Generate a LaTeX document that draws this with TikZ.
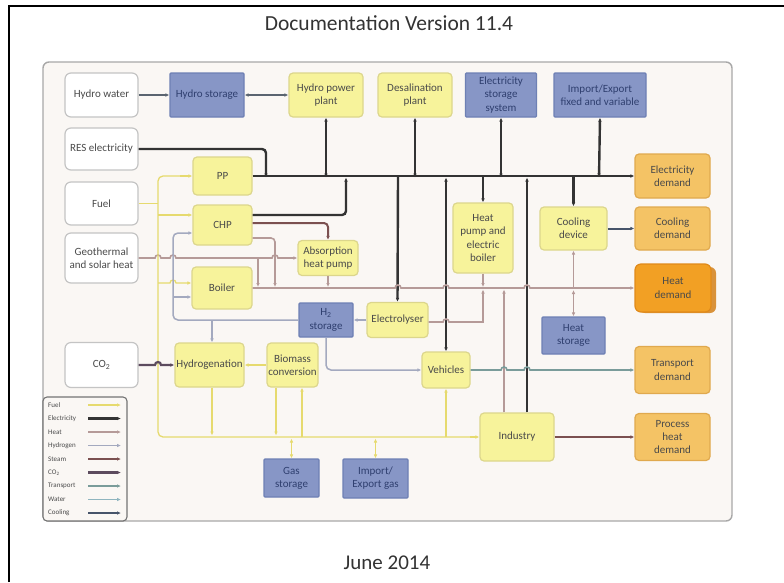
\documentclass[tikz,border=0pt]{standalone}
\usepackage{fontspec}
\setmainfont{Carlito}
\usetikzlibrary{arrows.meta}
\definecolor{frfill}{HTML}{FAF7F4}
\definecolor{frborder}{HTML}{A8A8A8}
\definecolor{yfill}{HTML}{F7F39B}
\definecolor{yborder}{HTML}{DCD68C}
\definecolor{bfill}{HTML}{8796C6}
\definecolor{bborder}{HTML}{6E80B4}
\definecolor{ofill}{HTML}{F4C365}
\definecolor{oborder}{HTML}{E0A94E}
\definecolor{hfill}{HTML}{F2A024}
\definecolor{hborder}{HTML}{E08A1A}
\definecolor{hshadow}{HTML}{D9923A}
\definecolor{wborder}{HTML}{C4C4C4}
\definecolor{txt}{HTML}{4A4A4A}
\definecolor{btxt}{HTML}{2F3F6F}
\definecolor{celec}{HTML}{333333}
\definecolor{cfuel}{HTML}{E6DA6E}
\definecolor{cheat}{HTML}{B59A98}
\definecolor{chtwo}{HTML}{A3A9BF}
\definecolor{csteam}{HTML}{7B5050}
\definecolor{cco}{HTML}{5C4B5E}
\definecolor{ctrans}{HTML}{7A9C9A}
\definecolor{cwater}{HTML}{8FB5BF}
\definecolor{ccool}{HTML}{46546A}
\definecolor{chydro}{HTML}{5A6470}
\tikzset{
  box/.style={rounded corners=4pt, line width=1.2pt, align=center, inner sep=1pt,
    font=\fontsize{11}{13.2}\selectfont, text=txt},
  ybox/.style={box, fill=yfill, draw=yborder},
  bbox/.style={box, rounded corners=1pt, fill=bfill, draw=bborder, text=btxt},
  obox/.style={box, fill=ofill, draw=oborder},
  hbox/.style={box, fill=hfill, draw=hborder, rounded corners=6pt},
  wbox/.style={box, fill=white, draw=wborder, rounded corners=6pt},
  sz/.style 2 args={minimum width=#1, minimum height=#2},
  elec/.style={draw=celec, line width=2.4pt},
  fuelc/.style={draw=cfuel, line width=1.3pt},
  heatc/.style={draw=cheat, line width=1.6pt},
  htwoc/.style={draw=chtwo, line width=1.5pt},
  steamc/.style={draw=csteam, line width=2pt},
  coc/.style={draw=cco, line width=2.2pt},
  transc/.style={draw=ctrans, line width=1.6pt},
  waterc/.style={draw=cwater, line width=1.3pt},
  coolc/.style={draw=ccool, line width=2pt},
  hydroc/.style={draw=chydro, line width=1.2pt},
}
\begin{document}
\begin{tikzpicture}[x=1pt,y=-1pt,>={Latex[length=4pt,width=3.6pt]}]
\useasboundingbox (0,0) rectangle (784,582);
\fill[white] (0,0) rectangle (784,582);
\draw[line width=2pt] (9,582) -- (9,6) -- (784,6);
\node[font=\fontsize{21.5}{24}\selectfont, text=black!80] (title) at (389,23) {Documentation Version 11.4};
\node[font=\fontsize{21}{24}\selectfont, text=black!80] (date) at (387,563) {June 2014};
% frame
\draw[rounded corners=6pt, fill=frfill, draw=frborder, line width=1.4pt] (43,62) rectangle (732,521);
% legend
\draw[rounded corners=4pt, draw=black!55, line width=1.1pt, fill=frfill] (43,397) rectangle (127,521);
\foreach \lab/\sty [count=\i from 0] in {Fuel/fuelc, Electricity/elec, Heat/heatc, Hydrogen/htwoc, Steam/steamc, {CO\textsubscript{2}}/coc, Transport/transc, Water/waterc, Cooling/coolc}{
  \node[anchor=west, font=\fontsize{7}{8}\selectfont, text=txt, inner sep=0pt] (leg\i) at (48,{405+13.5*\i}) {\lab};
  \draw[\sty,->] (88,{405+13.5*\i}) -- (121,{405+13.5*\i});
}
% top row
\node[wbox, sz={73pt}{44pt}] (hw) at (101.5,95) {Hydro water};
\node[bbox, sz={74pt}{44pt}] (hs) at (207,95) {Hydro storage};
\node[ybox, sz={74pt}{44pt}] (hpp) at (326,95) {Hydro power\\plant};
\node[ybox, sz={74pt}{44pt}] (desal) at (415,95) {Desalination\\plant};
\node[bbox, sz={71pt}{44pt}] (ess) at (501,95) {Electricity\\storage\\system};
\node[bbox, sz={92pt}{44pt}] (iex) at (600,95) {Import/Export\\fixed and variable};
% inputs
\node[wbox, sz={73pt}{42pt}] (res) at (101.5,149) {RES electricity};
\node[wbox, sz={73pt}{43pt}] (fuel) at (101.5,203.5) {Fuel};
\node[wbox, sz={73pt}{50pt}] (geo) at (101.5,258) {Geothermal\\and solar heat};
\node[wbox, sz={73pt}{45pt}] (co) at (101.5,365) {CO\textsubscript{2}};
% conversion
\node[ybox, sz={59pt}{38pt}] (pp) at (222.5,176) {PP};
\node[ybox, sz={59pt}{40pt}] (chp) at (222.5,225) {CHP};
\node[ybox, sz={60pt}{35pt}] (ahp) at (328,258) {Absorption\\heat pump};
\node[ybox, sz={60pt}{42pt}] (boiler) at (222,288) {Boiler};
\node[bbox, sz={54pt}{34pt}] (htwos) at (326,320) {H\textsubscript{2}\\storage};
\node[ybox, sz={61pt}{35pt}] (elyz) at (397.5,320) {Electrolyser};
\node[ybox, sz={69pt}{44pt}] (hydrog) at (209.5,365) {Hydrogenation};
\node[ybox, sz={51pt}{44pt}] (bio) at (292.5,365) {Biomass\\conversion};
\node[ybox, sz={48pt}{36pt}] (veh) at (446,370) {Vehicles};
\node[ybox, sz={60pt}{70pt}] (hpeb) at (483,238) {Heat\\pump and\\electric\\boiler};
\node[ybox, sz={67pt}{43pt}] (cool) at (573.5,228.5) {Cooling\\device};
\node[bbox, sz={63pt}{37pt}] (hst) at (573.5,335.5) {Heat\\storage};
\node[ybox, sz={74pt}{48pt}] (ind) at (517,437) {Industry};
\node[bbox, sz={55pt}{38pt}] (gas) at (291.5,478) {Gas\\storage};
\node[bbox, sz={65pt}{39pt}] (igas) at (375.5,478.5) {Import/\\Export gas};
% demands
\node[obox, sz={75pt}{44pt}] (eld) at (672.5,176) {Electricity\\demand};
\node[obox, sz={75pt}{43pt}] (cld) at (672.5,228.5) {Cooling\\demand};
\fill[hshadow, rounded corners=6pt] (639,267) rectangle (716,313);
\node[hbox, sz={76pt}{48pt}] (htd) at (673,288) {Heat\\demand};
\node[obox, sz={75pt}{47pt}] (trd) at (672.5,370) {Transport\\demand};
\node[obox, sz={75pt}{47pt}] (phd) at (672.5,437) {Process\\heat\\demand};

% hydro
\draw[hydroc,->] (hw) -- (hs);
\draw[hydroc,<->] (hs) -- (hpp);
% electricity
\draw[elec,->] (pp.east) -- (eld.west);
\draw[elec,->,rounded corners=4pt] (res.east) -| (266,177.5);
\draw[elec,<->] (hpp.south) -- (326,177.5);
\draw[elec,<->] (desal.south) -- (415,177.5);
\draw[elec,<->] (ess.south) -- (501,177.5);
\draw[elec,<->] (iex.south) -- (599,177.5);
\draw[elec,->,rounded corners=4pt] ([yshift=10pt]chp.east) -| (346,177.5);
\draw[elec,->] (398,176) -- (elyz.north);
\draw[elec,<->] (446,177.5) -- (veh.north);
\draw[elec,->] (483,176) -- (hpeb.north);
\draw[elec,->] ([xshift=10pt]ind.north) -- (527,177.5);
\draw[elec,->] (573.5,176) -- (cool.north);
% steam
\draw[steamc,->,rounded corners=4pt] ([yshift=2pt]chp.east) -| (ahp.north);
\draw[steamc,->] (ind.east) -- (phd.west);
% cooling
\draw[coolc,->] (cool.east) -- (cld.west);
% heat
\draw[heatc,->] (geo.east) -- (155,258) arc[start angle=180,end angle=360,radius=3]
  -- (170,258) arc[start angle=180,end angle=360,radius=3]
  -- (272,258) arc[start angle=180,end angle=360,radius=3] -- (ahp.west);
\draw[heatc,->] (258,258) -- (258,287);
\draw[heatc,->,rounded corners=4pt] ([yshift=-13pt]chp.east) -| (275,287);
\draw[heatc,->] (ahp.south) -- (328,287);
\draw[heatc,->] (boiler.east) -- (395,288) arc[start angle=180,end angle=360,radius=3]
  -- (443,288) arc[start angle=180,end angle=360,radius=3]
  -- (524,288) arc[start angle=180,end angle=360,radius=3] -- (htd.west);
\draw[heatc,->] (hpeb.south) -- (483,287);
\draw[heatc,->] ([yshift=-2pt]elyz.east) -- (443,322) arc[start angle=180,end angle=360,radius=3]
  -- (483,322) -- (483,289.5);
\draw[heatc,->] ([xshift=-13pt]ind.north) -- (504,289.5);
\draw[heatc,->] (573.5,288) -- (cool.south);
\draw[heatc,<->] (573.5,290) -- (hst.north);
% fuel
\draw[fuelc] (fuel.east) -- (158,203.5);
\draw[fuelc,rounded corners=5pt] (180,176) -- (158,176) -- (158,437) -- (470,437);
\draw[fuelc,->] (180,176) -- (pp.west);
\draw[fuelc,->] (470,437) -- (ind.west);
\draw[fuelc,->] (158,215) -- ([yshift=10pt]chp.west);
\draw[fuelc,->] (158,283) -- (170,283) arc[start angle=180,end angle=360,radius=3] -- ([yshift=5pt]boiler.west);
\draw[fuelc,->] (bio.west) -- (hydrog.east);
\draw[fuelc,->] ([xshift=2.5pt]hydrog.south) -- (212,435.5);
\draw[fuelc,->] ([xshift=-16.5pt]bio.south) -- (276,435.5);
\draw[fuelc,->] (302,437) -- ([xshift=9.5pt]bio.south);
\draw[fuelc,<->] (291.5,438.5) -- (gas.north);
\draw[fuelc,<->] (375.5,438.5) -- (igas.north);
\draw[fuelc,->] (446,437) -- (veh.south);
% hydrogen
\draw[htwoc,->,rounded corners=5pt] (htwos.west) -- (173,320) -- (173,233) -- ([yshift=-8pt]chp.west);
\draw[htwoc,->] (173,297) -- ([yshift=-9pt]boiler.west);
\draw[htwoc,->] (212,320) -- ([xshift=2.5pt]hydrog.north);
\draw[htwoc,->] (elyz.west) -- (htwos.east);
\draw[htwoc,->,rounded corners=5pt] (htwos.south) |- (veh.west);
% CO2
\draw[coc,->] (co.east) -- (155,365) arc[start angle=180,end angle=360,radius=3] -- (hydrog.west);
% transport
\draw[transc,->] (veh.east) -- (501,370) arc[start angle=180,end angle=360,radius=3]
  -- (524,370) arc[start angle=180,end angle=360,radius=3] -- (trd.west);
\end{tikzpicture}
\end{document}
